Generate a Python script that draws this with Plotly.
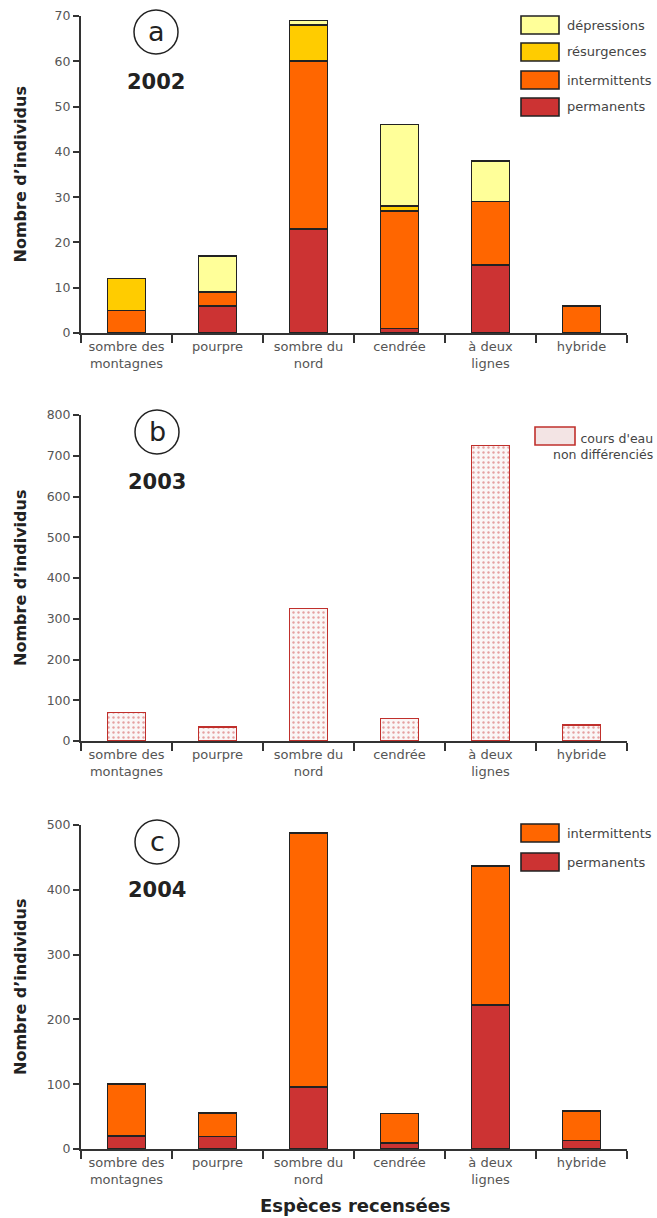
import plotly.graph_objects as go

# ---------------- data ----------------
categories = ["sombre des<br>montagnes", "pourpre", "sombre du<br>nord",
              "cendrée", "à deux<br>lignes", "hybride"]

# 2002 (a)
permanents_2002 = [0, 6, 23, 1, 15, 0]
intermittents_2002 = [5, 3, 37, 26, 14, 6]
resurgences_2002 = [7, 0, 8, 1, 0, 0]
depressions_2002 = [0, 8, 1, 18, 9, 0]

# 2003 (b)
non_diff_2003 = [70, 35, 325, 55, 725, 40]

# 2004 (c)
permanents_2004 = [20, 19, 96, 9, 222, 13]
intermittents_2004 = [80, 37, 392, 46, 215, 46]

names_2002 = ["permanents", "intermittents", "résurgences", "dépressions"]
names_2003 = ["cours d'eau", "non différenciés"]
names_2004 = ["permanents", "intermittents"]
years = ["2002", "2003", "2004"]
letters = ["a", "b", "c"]
y_titles = "Nombre d’individus"
x_title = "Espèces recensées"

# ---------------- styling ----------------
FONT = "DejaVu Sans"
C_PERM = "#cc3333"
C_INT = "#ff6600"
C_RES = "#ffcc00"
C_DEP = "#ffff99"
C_OUT = "#222222"
C_RED_OUT = "#c0302c"

W, H = 657, 1218
L, R = 81, 30
PW = W - L - R


def px2x(px):
    return (px - L) / PW


def py2y(py):
    return 1 - py / H


fig = go.Figure()

series_a = [(names_2002[0], permanents_2002, C_PERM),
            (names_2002[1], intermittents_2002, C_INT),
            (names_2002[2], resurgences_2002, C_RES),
            (names_2002[3], depressions_2002, C_DEP)]
for name, vals, col in series_a:
    fig.add_trace(go.Bar(x=categories, y=[v if v else None for v in vals], name=name,
                         marker=dict(color=col, line=dict(color=C_OUT, width=1.6)),
                         width=0.42, xaxis="x", yaxis="y", showlegend=False))

fig.add_trace(go.Bar(x=categories, y=non_diff_2003, name=" ".join(names_2003),
                     marker=dict(color="#faf6f6",
                                 line=dict(color=C_RED_OUT, width=1.6),
                                 pattern=dict(shape=".", fgcolor="#d04a4a",
                                              bgcolor="#faf6f6", size=5, solidity=0.18)),
                     width=0.42, xaxis="x2", yaxis="y2", showlegend=False))

series_c = [(names_2004[0], permanents_2004, C_PERM),
            (names_2004[1], intermittents_2004, C_INT)]
for name, vals, col in series_c:
    fig.add_trace(go.Bar(x=categories, y=vals, name=name,
                         marker=dict(color=col, line=dict(color=C_OUT, width=1.6)),
                         width=0.42, xaxis="x3", yaxis="y3", showlegend=False))

domains = [[py2y(333), py2y(16)], [py2y(741), py2y(415)], [py2y(1149), py2y(825)]]
ranges = [[0, 70], [0, 800], [0, 500]]
dticks = [10, 100, 100]

layout = dict(
    width=W, height=H,
    margin=dict(l=L, r=R, t=0, b=0, autoexpand=False),
    paper_bgcolor="white", plot_bgcolor="white",
    barmode="stack", showlegend=False,
    font=dict(family=FONT, color="#555555", size=13),
)
for i in range(3):
    sx = "" if i == 0 else str(i + 1)
    layout["xaxis" + sx] = dict(
        domain=[0, 1], anchor="y" + sx, type="category",
        range=[-0.5, 5.5], tickson="boundaries", ticks="outside",
        ticklen=8, tickwidth=2, tickcolor="#333333",
        showline=True, linecolor="#333333", linewidth=2,
        showgrid=False, zeroline=False,
        tickfont=dict(family=FONT, size=13, color="#555555"),
    )
    layout["yaxis" + sx] = dict(
        domain=domains[i], anchor="x" + sx, range=ranges[i], dtick=dticks[i],
        ticks="outside", ticklen=6, tickwidth=1.5, tickcolor="#333333",
        showline=True, linecolor="#333333", linewidth=2,
        showgrid=False, zeroline=False,
        tickfont=dict(family=FONT, size=12.5, color="#555555"),
    )
fig.update_layout(**layout)

shapes = []
annotations = []

# circled letters and years
circle_centers = [(156, 32), (157, 432), (157, 842)]
year_y = [82, 482, 890]
for i in range(3):
    cx, cy = circle_centers[i]
    r = 22
    shapes.append(dict(type="circle", xref="paper", yref="paper",
                       x0=px2x(cx - r), x1=px2x(cx + r), y0=py2y(cy + r), y1=py2y(cy - r),
                       line=dict(color="#222222", width=1.5)))
    annotations.append(dict(text=letters[i], xref="paper", yref="paper",
                            x=px2x(cx), y=py2y(cy - 1), showarrow=False,
                            xanchor="center", yanchor="middle",
                            font=dict(family=FONT, size=27, color="#222222")))
    annotations.append(dict(text="<b>%s</b>" % years[i], xref="paper", yref="paper",
                            x=px2x(cx), y=py2y(year_y[i]), showarrow=False,
                            xanchor="center", yanchor="middle",
                            font=dict(family=FONT, size=21, color="#222222")))
    sy = "" if i == 0 else str(i + 1)
    annotations.append(dict(text="<b>%s</b>" % y_titles, xref="paper", yref="y%s domain" % sy,
                            x=px2x(20), y=0.5, showarrow=False, textangle=-90,
                            xanchor="center", yanchor="middle",
                            font=dict(family=FONT, size=16, color="#222222")))

# legend a
legend_a = [(names_2002[3], C_DEP, 25), (names_2002[2], C_RES, 52),
            (names_2002[1], C_INT, 80), (names_2002[0], C_PERM, 107)]
legend_c = [(names_2004[1], C_INT, 833), (names_2004[0], C_PERM, 862)]
for name, col, yc in legend_a + legend_c:
    shapes.append(dict(type="rect", xref="paper", yref="paper",
                       x0=px2x(521), x1=px2x(559), y0=py2y(yc + 9), y1=py2y(yc - 9),
                       fillcolor=col, line=dict(color=C_OUT, width=1.6)))
    annotations.append(dict(text=name, xref="paper", yref="paper",
                            x=px2x(565), y=py2y(yc), showarrow=False,
                            xanchor="left", yanchor="middle",
                            font=dict(family=FONT, size=13, color="#444444")))

# legend b
shapes.append(dict(type="rect", xref="paper", yref="paper",
                   x0=px2x(535), x1=px2x(575), y0=py2y(445), y1=py2y(427),
                   fillcolor="#f3e4e4", line=dict(color=C_RED_OUT, width=1.6)))
annotations.append(dict(text="<br>".join(names_2003), xref="paper", yref="paper",
                        x=px2x(655), y=py2y(446), showarrow=False,
                        xanchor="right", yanchor="middle", align="right",
                        font=dict(family=FONT, size=12.5, color="#444444")))

# x axis title
annotations.append(dict(text="<b>%s</b>" % x_title, xref="paper", yref="paper",
                        x=px2x(355), y=py2y(1205), showarrow=False,
                        xanchor="center", yanchor="middle",
                        font=dict(family=FONT, size=18, color="#222222")))

fig.update_layout(shapes=shapes, annotations=annotations)
fig.write_html("out.html", config={"displayModeBar": False},
               post_script="document.body.style.margin='0';document.body.style.overflow='hidden';")
